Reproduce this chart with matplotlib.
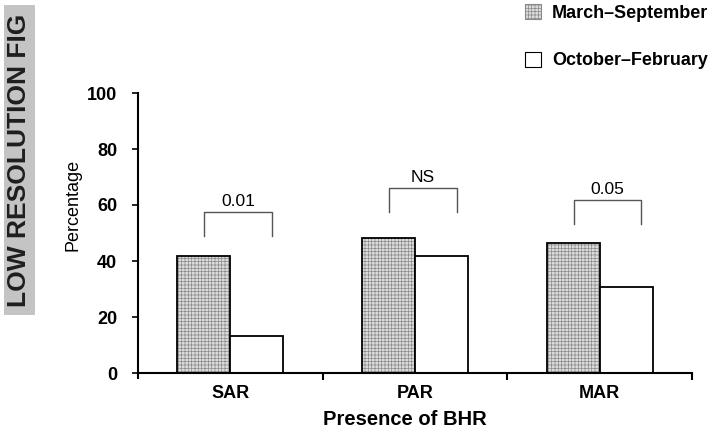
import matplotlib
matplotlib.use("Agg")
import matplotlib.pyplot as plt
from matplotlib.patches import Rectangle
import numpy as np

plt.rcParams['font.family'] = ['Liberation Sans', 'DejaVu Sans']
plt.rcParams['hatch.linewidth'] = 0.5

# data
categories = ["SAR", "PAR", "MAR"]
march_sept = [41.8, 48.3, 46.3]
oct_feb = [13.2, 41.8, 30.8]
p_labels = ["0.01", "NS", "0.05"]
bracket_top = [57.4, 66.0, 61.8]
bracket_bottom = [48.8, 57.6, 53.1]

fig = plt.figure(figsize=(7.14, 4.28), dpi=100)
ax = fig.add_axes([138 / 714, 1 - 373 / 428, 554 / 714, 280 / 428])

x = np.arange(len(categories))
w = 0.287

# hatched fill first, then black outline on top
ax.bar(x - w / 2, march_sept, w, color='#dcdcdc', hatch='+++++', edgecolor='#8a8a8a', linewidth=0)
ax.bar(x - w / 2, march_sept, w, fill=False, edgecolor='black', linewidth=1.3)
ax.bar(x + w / 2, oct_feb, w, color='white', edgecolor='black', linewidth=1.3)

# significance brackets
for i in range(len(categories)):
    x0 = x[i] - 0.14
    x1 = x[i] + 0.225
    ax.plot([x0, x0, x1, x1], [bracket_bottom[i], bracket_top[i], bracket_top[i], bracket_bottom[i]],
            color='#555555', linewidth=1.0)
    ax.text((x0 + x1) / 2, bracket_top[i] + 1.0, p_labels[i], ha='center', va='bottom', fontsize=12.5)

ax.set_xlim(-0.5, 2.5)
ax.set_ylim(0, 100)
ax.set_yticks([0, 20, 40, 60, 80, 100])
ax.set_yticklabels(['0', '20', '40', '60', '80', '100'], fontsize=13, fontweight='bold')
ax.set_xticks(x)
ax.set_xticklabels(categories, fontsize=13, fontweight='bold')
ax.tick_params(axis='x', which='major', length=0, pad=9)
ax.set_xticks([0.5, 1.5, 2.5], minor=True)
ax.tick_params(axis='x', which='minor', length=5, width=1.5, direction='out')
ax.tick_params(axis='y', length=4, width=1.2, direction='out', pad=11)

for s in ['top', 'right']:
    ax.spines[s].set_visible(False)
ax.spines['left'].set_linewidth(1.5)
ax.spines['bottom'].set_linewidth(1.5)
ax.spines['left'].set_bounds(-1.8, 100)

fig.text(73 / 714, 1 - 205 / 428, "Percentage", rotation=90, ha='center', va='center', fontsize=13)
fig.text(405 / 714, 1 - 425 / 428, "Presence of BHR", ha='center', va='baseline',
         fontsize=14.5, fontweight='bold')

# legend in the top right corner
h1 = Rectangle((0, 0), 1, 1, facecolor='#dcdcdc', hatch='+++++', edgecolor='#8a8a8a', linewidth=0.8)
h2 = Rectangle((0, 0), 1, 1, facecolor='white', edgecolor='black', linewidth=0.8)
fig.legend([h1, h2], ["March\u2013September", "October\u2013February"],
           loc='upper left', bbox_to_anchor=(525 / 714, 1 - 4 / 428), frameon=False,
           prop={'size': 13, 'weight': 'bold'}, handlelength=0.9, handleheight=0.9,
           handletextpad=0.6, labelspacing=1.65, borderpad=0, borderaxespad=0)

# watermark box on the left
fig.patches.append(Rectangle((4 / 714, 1 - 315 / 428), 31 / 714, 310 / 428,
                             transform=fig.transFigure, facecolor='#c4c4c4', edgecolor='none'))
fig.text(19.5 / 714, 1 - 160 / 428, "LOW RESOLUTION FIG", rotation=90, ha='center', va='center',
         fontsize=19, fontweight='bold', color='#1e1e1e')

fig.savefig("out.png", dpi=100)
